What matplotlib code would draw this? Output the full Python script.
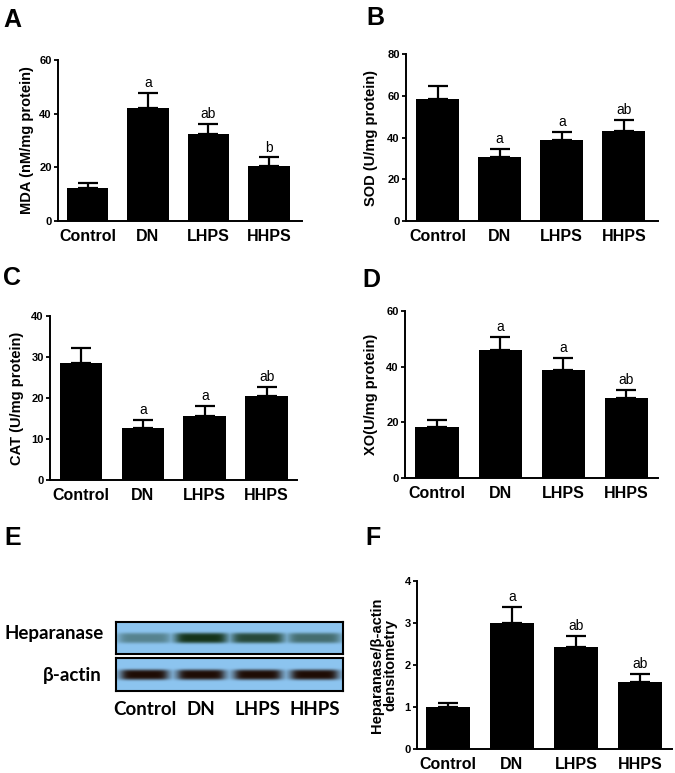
import numpy as np
import matplotlib
matplotlib.use('Agg')
import matplotlib.pyplot as plt

plt.rcParams['font.family'] = ['Liberation Sans', 'DejaVu Sans']

groups = ['Control', 'DN', 'LHPS', 'HHPS']

# A - MDA
mda = [12.2, 42.2, 32.3, 20.6]
mda_err = [1.8, 5.4, 4.0, 3.1]
mda_sig = ['', 'a', 'ab', 'b']

# B - SOD
sod = [58.6, 30.7, 38.7, 42.9]
sod_err = [6.2, 3.7, 3.9, 5.6]
sod_sig = ['', 'a', 'a', 'ab']

# C - CAT
cat = [28.6, 12.6, 15.7, 20.6]
cat_err = [3.7, 2.0, 2.3, 2.1]
cat_sig = ['', 'a', 'a', 'ab']

# D - XO
xo = [18.5, 46.0, 38.8, 28.9]
xo_err = [2.4, 4.8, 4.4, 2.8]
xo_sig = ['', 'a', 'a', 'ab']

# F - heparanase / beta-actin
hpse = [1.0, 2.99, 2.42, 1.59]
hpse_err = [0.09, 0.40, 0.27, 0.20]
hpse_sig = ['', 'a', 'ab', 'ab']

# E - relative band intensities on the blot
hep_band = [0.45, 1.0, 0.85, 0.6]
actin_band = [1.0, 1.0, 1.0, 1.0]

W, H = 675, 773
fig = plt.figure(figsize=(W / 100, H / 100), dpi=100, facecolor='white')


def px_rect(left, top, width, height):
    # pixel box (from top-left) -> figure fraction
    return [left / W, 1 - (top + height) / H, width / W, height / H]


def bar_panel(rect, means, errs, sig, yticks, ylabel, xlim, lab_x):
    ax = fig.add_axes(rect)
    x = np.arange(len(groups))
    ax.bar(x, means, width=0.69, color='black', zorder=2)
    ax.errorbar(x, means, yerr=[np.zeros(len(errs)), errs], fmt='none',
                ecolor='black', elinewidth=1.6, capsize=7.5, capthick=1.6, zorder=3)
    for xi, m, e, s in zip(x, means, errs, sig):
        if s:
            ax.annotate(s, (xi, m + e), xytext=(0, 2), textcoords='offset points',
                        ha='center', va='bottom', fontsize=10)
    ax.set_xlim(*xlim)
    ax.set_ylim(yticks[0], yticks[-1])
    ax.set_yticks(yticks)
    ax.set_xticks(x)
    ax.set_xticklabels(groups, fontsize=11.5, fontweight='bold')
    ax.tick_params(axis='x', length=0, pad=6)
    ax.tick_params(axis='y', length=3, width=1.3, pad=1.5, labelsize=8)
    for t in ax.get_yticklabels():
        t.set_fontweight('bold')
    ax.spines[['top', 'right']].set_visible(False)
    ax.spines[['left', 'bottom']].set_linewidth(1.4)
    ax.set_ylabel(ylabel, fontsize=10.5, fontweight='bold', va='center', linespacing=1.0)
    ax.yaxis.set_label_coords(lab_x, 0.5)
    return ax


bar_panel(px_rect(58, 60, 244, 161), mda, mda_err, mda_sig, [0, 20, 40, 60],
          'MDA (nM/mg protein)', (-0.49, 3.55), -0.128)
bar_panel(px_rect(406, 54, 252, 167), sod, sod_err, sod_sig, [0, 20, 40, 60, 80],
          'SOD (U/mg protein)', (-0.51, 3.55), -0.138)
bar_panel(px_rect(50, 316, 247, 164), cat, cat_err, cat_sig, [0, 10, 20, 30, 40],
          'CAT (U/mg protein)', (-0.5, 3.49), -0.132)
bar_panel(px_rect(405, 311, 253, 167), xo, xo_err, xo_sig, [0, 20, 40, 60],
          'XO(U/mg protein)', (-0.51, 3.5), -0.134)
bar_panel(px_rect(417, 581, 255, 168), hpse, hpse_err, hpse_sig, [0, 1, 2, 3, 4],
          'Heparanase/β-actin\ndensitometry', (-0.48, 3.5), -0.13)


def blot_strip(rect, intens, band_rgb, hw, yc, sig):
    ax = fig.add_axes(rect)
    xs = np.linspace(0, 4, 400)
    ys = np.linspace(0, 1, 60)
    X, Y = np.meshgrid(xs, ys)
    alpha = np.zeros_like(X)
    for i, v in enumerate(intens):
        hprof = 1 / (1 + ((X - (i + 0.5)) / hw) ** 8)
        vprof = np.exp(-0.5 * ((Y - yc) / sig) ** 4)
        alpha = np.maximum(alpha, v * hprof * vprof)
    bg = np.array([0.55, 0.77, 0.94])
    img = bg * (1 - alpha[..., None]) + np.array(band_rgb) * alpha[..., None]
    ax.imshow(img, extent=[0, 4, 0, 1], aspect='auto', origin='lower')
    ax.set_xlim(0, 4)
    ax.set_yticks([])
    ax.set_xticks([])
    for s in ax.spines.values():
        s.set_linewidth(1.5)
    return ax


blot_font = ['Lato', 'Open Sans', 'DejaVu Sans']
blot_strip(px_rect(116, 622, 227, 32), hep_band, (0.08, 0.2, 0.1), 0.45, 0.5, 0.14)
ax_act = blot_strip(px_rect(116, 658, 227, 33), actin_band, (0.12, 0.05, 0.02), 0.41, 0.48, 0.13)
ax_act.set_xticks(np.arange(len(groups)) + 0.5)
ax_act.set_xticklabels(groups, fontsize=13.5, fontweight='bold', family=blot_font)
ax_act.tick_params(axis='x', length=0, pad=7)

fig.text(4 / W, 1 - 633 / H, 'Heparanase', fontsize=13.5, fontweight='bold',
         family=blot_font, ha='left', va='center')
fig.text(102 / W, 1 - 675 / H, 'β-actin', fontsize=13.5, fontweight='bold',
         family=blot_font, ha='right', va='center')

# panel letters
for lab, xp, yp in [('A', 3, 27), ('B', 366, 25), ('C', 3, 285),
                    ('D', 362, 287), ('E', 4, 545), ('F', 365, 545)]:
    fig.text(xp / W, 1 - yp / H, lab, fontsize=18, fontweight='bold', va='baseline')

fig.savefig('out.png', dpi=100)
